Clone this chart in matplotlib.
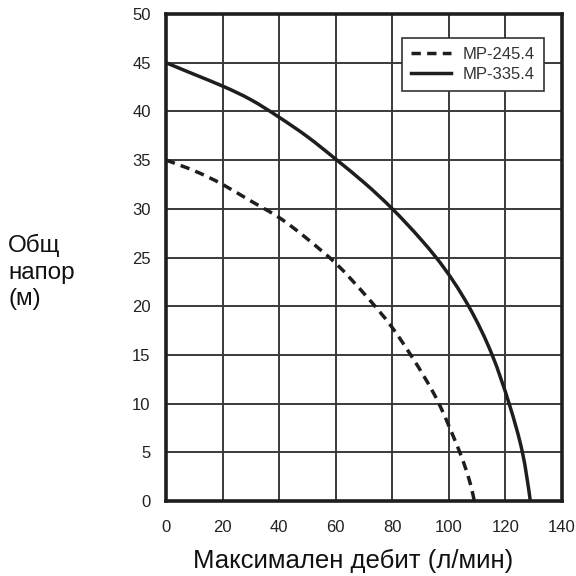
import matplotlib
matplotlib.use("Agg")
import matplotlib.pyplot as plt
from matplotlib.path import Path
from matplotlib.patches import PathPatch
from matplotlib.lines import Line2D
import numpy as np

plt.rcParams['font.family'] = ['Liberation Sans', 'DejaVu Sans']

# Data
flow_245 = [0, 10, 20, 30, 40, 50, 60, 70, 80, 86.5, 96.5, 100.6, 103.6, 108, 109]
head_245 = [35, 33.9, 32.5, 30.8, 29.1, 26.9, 24.4, 21.3, 17.8, 15, 10, 7.3, 5.2, 1.3, 0]
flow_335 = [0, 10, 20, 30, 40, 50, 60, 70, 80, 90, 95.5, 107, 115.3, 121.3, 126, 128.8]
head_335 = [45, 43.8, 42.6, 41.2, 39.4, 37.4, 35.1, 32.7, 30, 26.9, 25, 20, 15, 10, 5, 0]

series_names = ["MP-245.4", "MP-335.4"]
x_ticks = [0, 20, 40, 60, 80, 100, 120, 140]
y_ticks = [0, 5, 10, 15, 20, 25, 30, 35, 40, 45, 50]
x_label = "Максимален дебит (л/мин)"
y_label = "Общ\nнапор\n(м)"


def _second_derivs(t, v):
    n = len(t)
    h = np.diff(t)
    A = np.zeros((n, n))
    b = np.zeros(n)
    A[0, 0] = A[-1, -1] = 1.0
    for i in range(1, n - 1):
        A[i, i - 1] = h[i - 1]
        A[i, i] = 2 * (h[i - 1] + h[i])
        A[i, i + 1] = h[i]
        b[i] = 6 * ((v[i + 1] - v[i]) / h[i] - (v[i] - v[i - 1]) / h[i - 1])
    return np.linalg.solve(A, b)


def smooth_path(xs, ys, sx=2.83, sy=9.74):
    """Bezier path through the data points (natural cubic spline, chord-length param)."""
    P = np.column_stack([np.asarray(xs, float) * sx, np.asarray(ys, float) * sy])
    d = np.hypot(*np.diff(P, axis=0).T)
    t = np.r_[0, np.cumsum(d)]
    M = np.column_stack([_second_derivs(t, P[:, k]) for k in range(2)])
    verts = [P[0]]
    codes = [Path.MOVETO]
    for i in range(len(P) - 1):
        h = t[i + 1] - t[i]
        sl = (P[i + 1] - P[i]) / h
        d0 = sl - h * (2 * M[i] + M[i + 1]) / 6
        d1 = sl + h * (M[i] + 2 * M[i + 1]) / 6
        verts += [P[i] + d0 * h / 3, P[i + 1] - d1 * h / 3, P[i + 1]]
        codes += [Path.CURVE4] * 3
    V = np.array(verts) / np.array([sx, sy])
    return Path(V, codes)


fig = plt.figure(figsize=(5.76, 5.76), dpi=100)
ax = fig.add_axes([166 / 576, 75 / 576, 396 / 576, 487 / 576])

line_color = '#1e1e1e'
dash = (0, (2.7, 1.8))
ax.add_patch(PathPatch(smooth_path(flow_245, head_245), fill=False, edgecolor=line_color,
                       lw=2.5, ls=dash, zorder=3, capstyle='butt'))
ax.add_patch(PathPatch(smooth_path(flow_335, head_335), fill=False, edgecolor=line_color,
                       lw=2.5, ls='-', zorder=3))

ax.set_xlim(0, 140)
ax.set_ylim(0, 50)
ax.set_xticks(x_ticks)
ax.set_yticks(y_ticks)
ax.grid(True, color='#3a3a3a', lw=1.4)
ax.set_axisbelow(True)
ax.tick_params(length=0, labelsize=12, colors='#222222')
ax.tick_params(axis='x', pad=14)
ax.tick_params(axis='y', pad=11)
for sp in ax.spines.values():
    sp.set_linewidth(2.6)
    sp.set_color('#1e1e1e')

handles = [Line2D([], [], color=line_color, lw=2.5, ls=dash),
           Line2D([], [], color=line_color, lw=2.5, ls='-')]
leg = ax.legend(handles, series_names, loc='upper right', bbox_to_anchor=(0.9545, 0.9507),
                borderaxespad=0, fontsize=12, frameon=True, fancybox=False,
                handlelength=2.4, borderpad=0.55, labelspacing=0.3, handletextpad=0.7)
leg.get_frame().set_edgecolor('#333333')
leg.get_frame().set_linewidth(1.2)
leg.get_frame().set_alpha(1)
for t in leg.get_texts():
    t.set_color('#333333')

fig.text(353 / 576, 1 - 561 / 576, x_label, ha='center', va='center', fontsize=18.5, color='#111111')
fig.text(8 / 576, 1 - 272 / 576, y_label, ha='left', va='center', fontsize=17.5,
         color='#111111', linespacing=1.28)

fig.savefig('out.png', dpi=100)
